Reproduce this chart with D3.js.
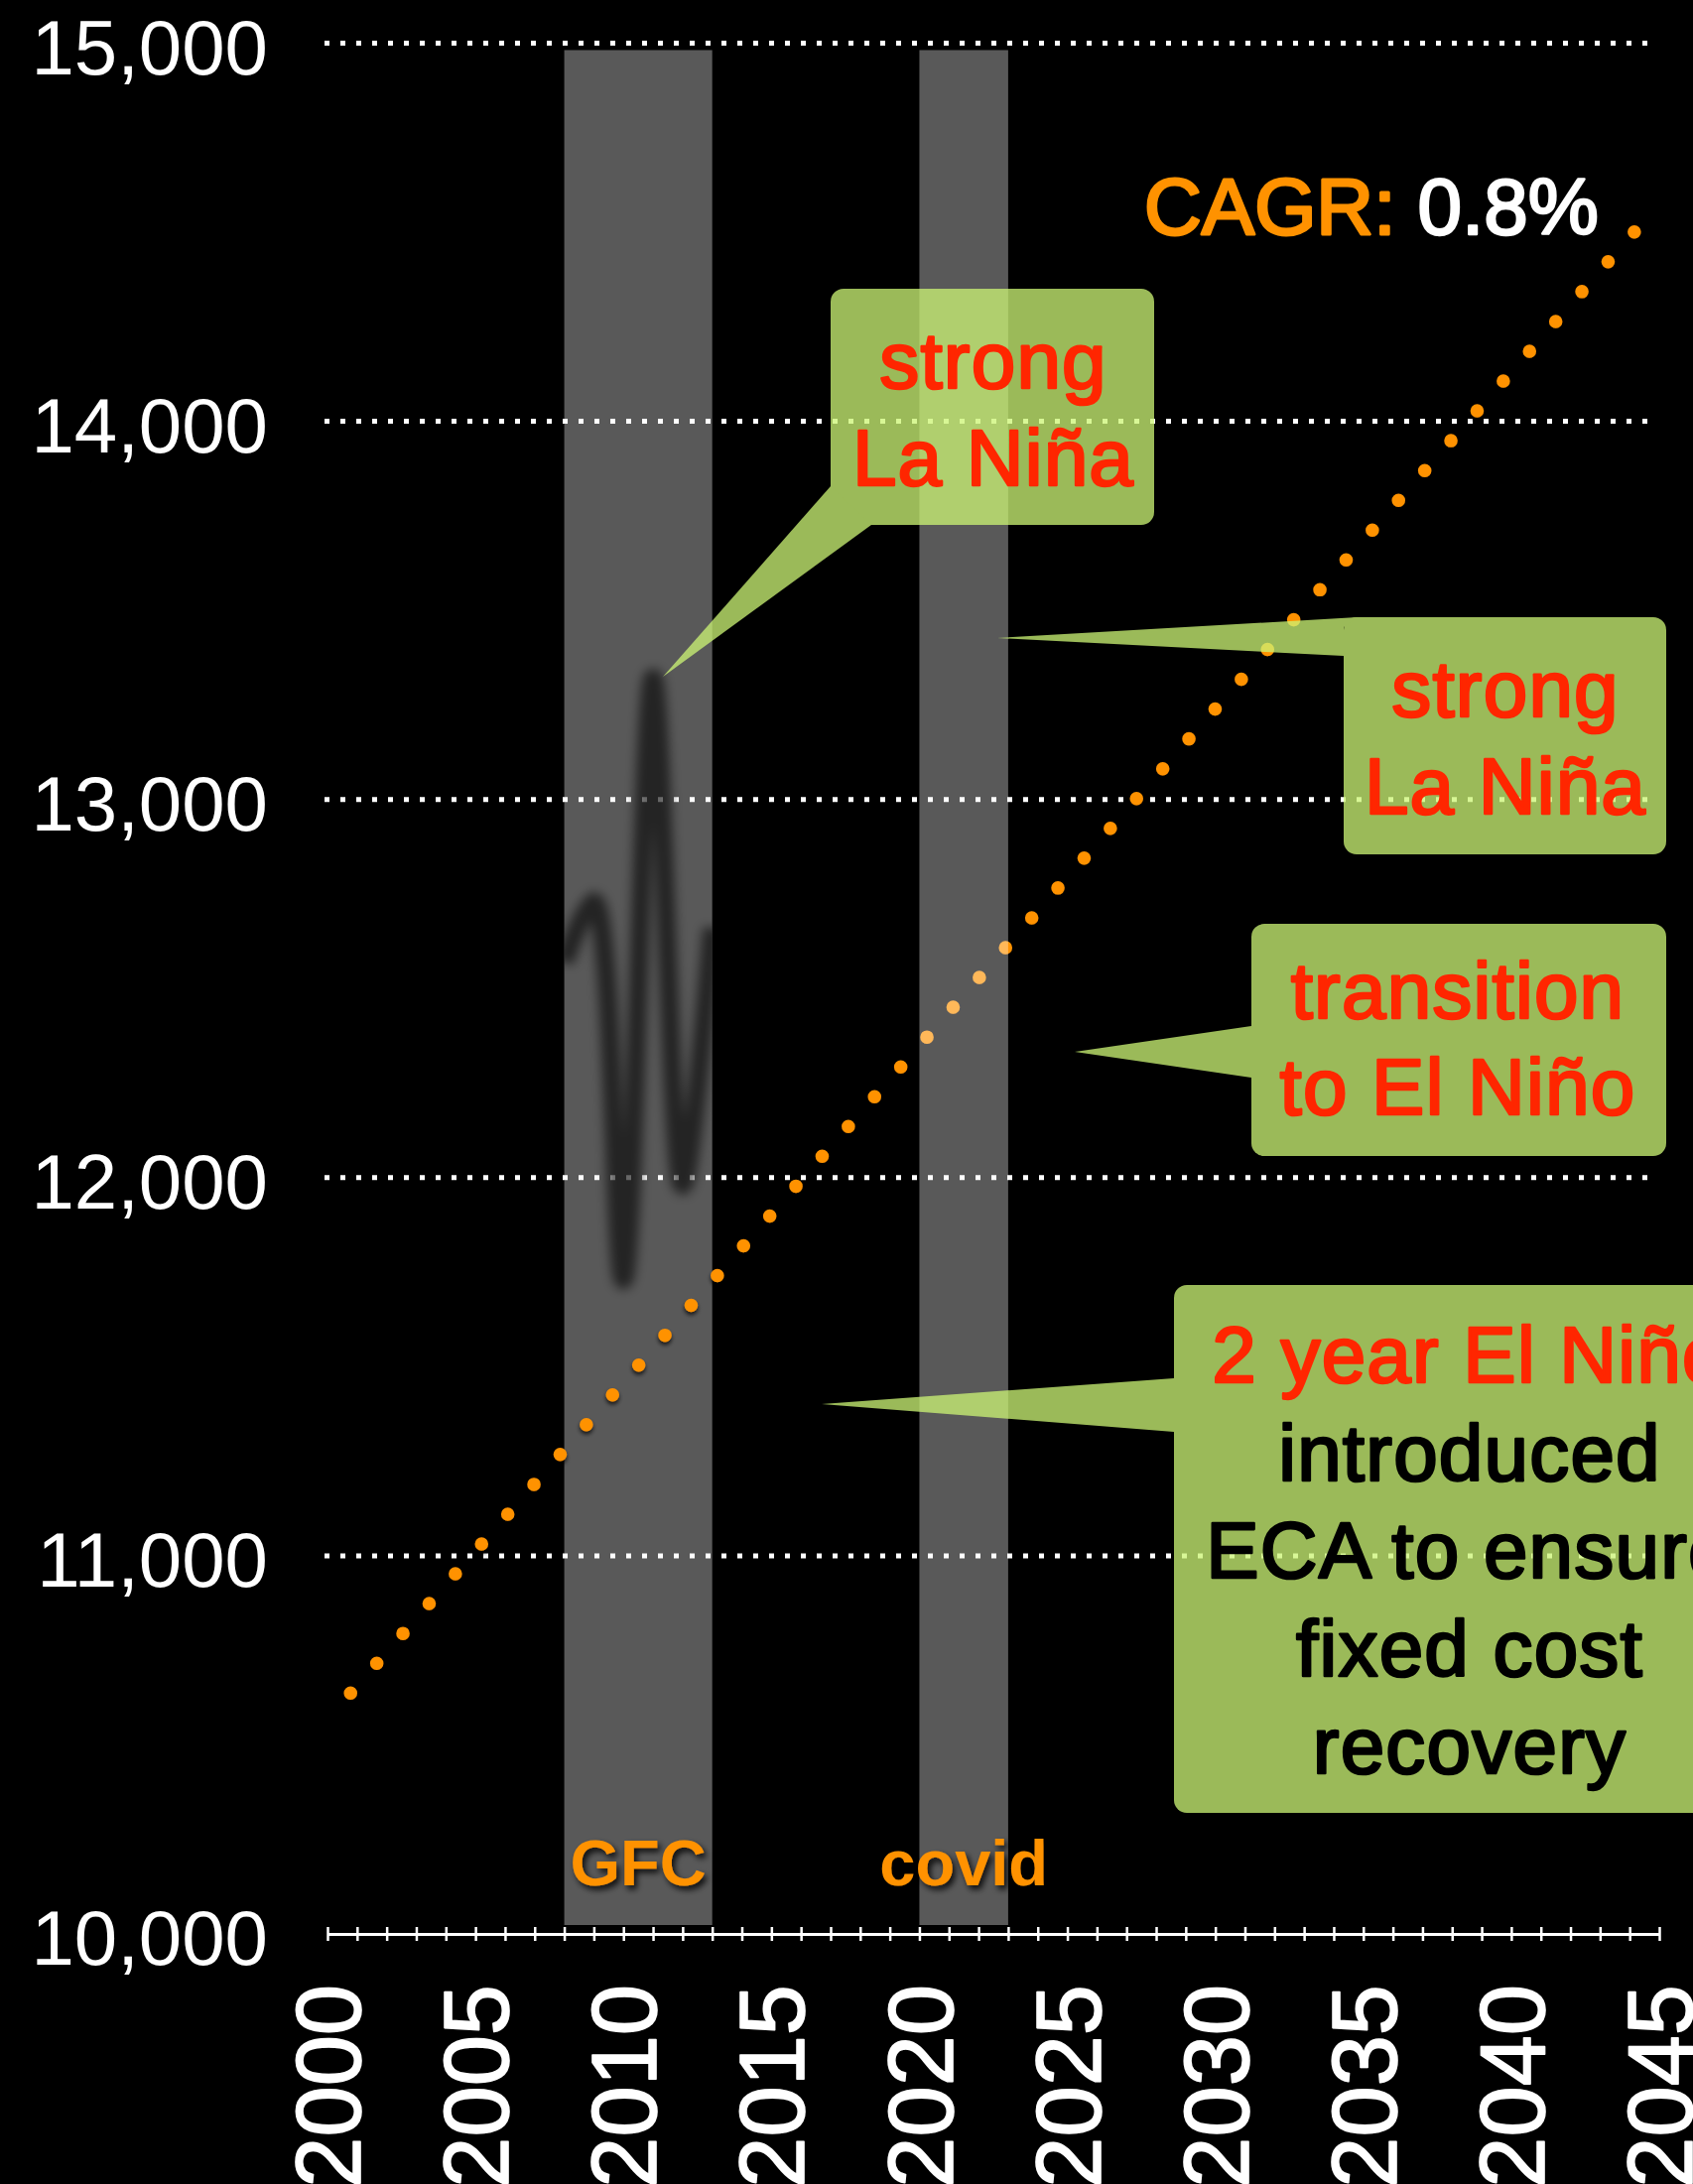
<!DOCTYPE html>
<html>
<head>
<meta charset="utf-8">
<script src="https://cdn.jsdelivr.net/npm/d3@7"></script>
<style>
  html, body { margin: 0; padding: 0; background: #000; }
  svg { display: block; }
</style>
</head>
<body>
<svg id="chart" width="1706" height="2201"></svg>
<script>
// ---------------- data ----------------
const xTickYears   = d3.range(2000, 2046);                 // minor ticks, one per year
const xLabelYears  = [2000, 2005, 2010, 2015, 2020, 2025, 2030, 2035, 2040, 2045];
const yTickValues  = [10000, 11000, 12000, 13000, 14000, 15000];

// hidden (black) series, visible only over the GFC band
const waveYears  = [2008, 2009, 2010, 2011, 2012, 2013];
const waveValues = [12570, 12730, 11730, 13320, 11980, 12660];

// dotted CAGR trend line (start / end)
const trendYears  = [2000.78, 2044.16];
const trendValues = [10637, 14501];
const cagrText    = ["CAGR:", "0.8%"];

// shaded periods
const bandNames = ["GFC", "covid"];
const bandStart = [2008, 2020];
const bandEnd   = [2013, 2023];

// call-out texts
const note1Lines = ["strong", "La Niña"];
const note2Lines = ["strong", "La Niña"];
const note3Lines = ["transition", "to El Niño"];
const note4Lines = ["2 year El Niño", "introduced", "ECA to ensure", "fixed cost", "recovery"];

// ---------------- layout ----------------
const W = 1706, H = 2201;
const ORANGE = "#ff9200", RED = "#ff2600";
const FONT = "'Liberation Sans', Arial, Helvetica, sans-serif";

const svg = d3.select("#chart");
const x = d3.scaleLinear().domain([2000, 2045]).range([330, 1672]);
const y = d3.scaleLinear().domain([10000, 15000]).range([1949, 43.5]);

const defs = svg.append("defs");
const ds = defs.append("filter").attr("id", "dotShadow").attr("x", "-50%").attr("y", "-50%").attr("width", "200%").attr("height", "200%");
ds.append("feDropShadow").attr("dx", 0).attr("dy", 3).attr("stdDeviation", 2).attr("flood-color", "#000").attr("flood-opacity", 0.75);
const ts = defs.append("filter").attr("id", "txtShadow").attr("x", "-20%").attr("y", "-20%").attr("width", "140%").attr("height", "160%");
ts.append("feDropShadow").attr("dx", 3).attr("dy", 4).attr("stdDeviation", 3).attr("flood-color", "#000").attr("flood-opacity", 0.85);
const bl = defs.append("filter").attr("id", "blur").attr("x", "-30%").attr("y", "-30%").attr("width", "160%").attr("height", "160%");
bl.append("feGaussianBlur").attr("stdDeviation", 5.5);
defs.append("clipPath").attr("id", "gfcClip").append("rect")
  .attr("x", x(bandStart[0])).attr("width", x(bandEnd[0]) - x(bandStart[0]))
  .attr("y", y(15000) + 7).attr("height", y(10000) - 9 - (y(15000) + 7));

svg.append("rect").attr("width", W).attr("height", H).attr("fill", "#000");

const bandTop = y(15000) + 7, bandBottom = y(10000) - 9;
function drawBand(i) {
  svg.append("rect")
    .attr("x", x(bandStart[i])).attr("width", x(bandEnd[i]) - x(bandStart[i]))
    .attr("y", bandTop).attr("height", bandBottom - bandTop)
    .attr("fill", "#fff").attr("fill-opacity", 0.35);
}

// GFC band (under the gridlines and dots)
drawBand(0);

// gridlines
const grid = svg.append("g");
grid.selectAll("line").data(yTickValues.filter(v => v > 10000)).join("line")
  .attr("x1", 327).attr("x2", 1662)
  .attr("y1", d => y(d)).attr("y2", d => y(d))
  .attr("stroke", "#fff").attr("stroke-width", 5).attr("stroke-dasharray", "5 11");

// hidden wave line
svg.append("g").attr("clip-path", "url(#gfcClip)")
  .append("path")
  .datum(waveYears.map((yr, i) => [yr, waveValues[i]]))
  .attr("d", d3.line().x(d => x(d[0])).y(d => y(d[1])).curve(d3.curveCatmullRom.alpha(0.5)))
  .attr("fill", "none").attr("stroke", "#000").attr("stroke-opacity", 0.6)
  .attr("stroke-width", 19).attr("stroke-linejoin", "round").attr("filter", "url(#blur)");

// dotted trend line
svg.append("path")
  .datum(trendYears.map((yr, i) => [yr, trendValues[i]]))
  .attr("d", d3.line().x(d => x(d[0])).y(d => y(d[1])))
  .attr("fill", "none").attr("stroke", ORANGE).attr("stroke-width", 13.5)
  .attr("stroke-linecap", "round").attr("stroke-dasharray", "0 40")
  .attr("filter", "url(#dotShadow)");

// covid band (over the dots)
drawBand(1);

// x axis
const xAxis = svg.append("g").attr("transform", `translate(0,${y(10000)})`)
  .call(d3.axisBottom(x).tickValues(xTickYears).tickSize(7).tickSizeOuter(0).tickFormat(""));
xAxis.select(".domain").attr("stroke", "#fff").attr("stroke-width", 3);
xAxis.selectAll(".tick line").attr("y1", -7).attr("y2", 7).attr("stroke", "#fff").attr("stroke-width", 2.5);

// x labels (rotated)
svg.append("g").selectAll("text").data(xLabelYears).join("text")
  .attr("transform", d => `translate(${x(d)},2000) rotate(-90)`)
  .attr("text-anchor", "end").attr("dy", "0.36em")
  .attr("font-family", FONT).attr("font-size", 92)
  .attr("fill", "#fff").attr("stroke", "#fff").attr("stroke-width", 1.6)
  .attr("stroke-linejoin", "round").text(d => d);

// y labels
const fmt = d3.format(",");
svg.append("g").selectAll("text").data(yTickValues).join("text")
  .attr("x", 270).attr("y", d => y(d)).attr("dy", "0.40em")
  .attr("text-anchor", "end")
  .attr("font-family", FONT).attr("font-size", 78)
  .attr("fill", "#fff").text(d => fmt(d));

// band labels
svg.append("g").selectAll("text").data(bandNames).join("text")
  .attr("x", (d, i) => (x(bandStart[i]) + x(bandEnd[i])) / 2).attr("y", 1900)
  .attr("text-anchor", "middle")
  .attr("font-family", FONT).attr("font-size", 65).attr("font-weight", "bold")
  .attr("fill", ORANGE).attr("filter", "url(#txtShadow)").text(d => d);

// CAGR label
const cagr = svg.append("text").attr("x", 1153).attr("y", 236)
  .attr("font-family", FONT).attr("font-size", 80).attr("stroke-linejoin", "round");
cagr.append("tspan").attr("fill", ORANGE).attr("stroke", ORANGE).attr("stroke-width", 3).text(cagrText[0] + " ");
cagr.append("tspan").attr("fill", "#fff").attr("stroke", "#fff").attr("stroke-width", 2.5).text(cagrText[1]);

// call-outs
const notes = [
  { lines: note1Lines, colors: [RED, RED], rect: [837, 291, 1163, 529],
    pointer: [[837, 490], [668, 682], [878, 529]], tx: 1001, base: 391, lh: 98 },
  { lines: note2Lines, colors: [RED, RED], rect: [1354, 622, 1679, 861],
    pointer: [[1368, 622], [1005, 643], [1354, 661], [1354, 632]], tx: 1517, base: 722, lh: 98 },
  { lines: note3Lines, colors: [RED, RED], rect: [1261, 931, 1679, 1165],
    pointer: [[1261, 1034], [1083, 1060], [1261, 1086]], tx: 1469, base: 1026, lh: 97 },
  { lines: note4Lines, colors: [RED, "#000", "#000", "#000", "#000"], rect: [1183, 1295, 1790, 1827],
    pointer: [[1183, 1389], [828, 1415], [1183, 1443]], tx: 1481, base: 1393, lh: 98.5 }
];

notes.forEach(n => {
  const g = svg.append("g").attr("opacity", 0.76);
  g.append("rect").attr("x", n.rect[0]).attr("y", n.rect[1])
    .attr("width", n.rect[2] - n.rect[0]).attr("height", n.rect[3] - n.rect[1])
    .attr("rx", 13).attr("fill", "rgb(204,245,117)");
  g.append("polygon").attr("points", n.pointer.map(p => p.join(",")).join(" "))
    .attr("fill", "rgb(204,245,117)");
});
notes.forEach(n => {
  svg.append("g").selectAll("text").data(n.lines).join("text")
    .attr("x", n.tx).attr("y", (d, i) => n.base + i * n.lh)
    .attr("text-anchor", "middle")
    .attr("font-family", FONT).attr("font-size", 80).attr("letter-spacing", 1.2)
    .attr("fill", (d, i) => n.colors[i]).attr("stroke", (d, i) => n.colors[i])
    .attr("stroke-width", 2.6).attr("stroke-linejoin", "round")
    .text(d => d);
});
</script>
</body>
</html>
